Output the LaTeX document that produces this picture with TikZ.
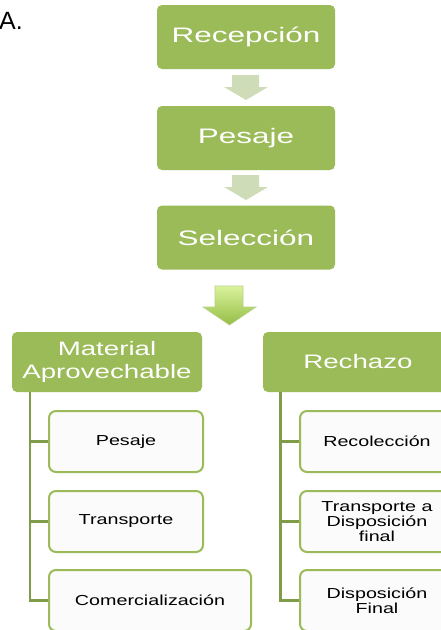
\documentclass[tikz,border=0pt]{standalone}
\usepackage{fontspec}
\setmainfont{Liberation Sans}
\newfontfamily\headfont[FakeStretch=1.5]{Liberation Sans}
\newfontfamily\subheadfont[FakeStretch=1.42]{Liberation Sans}
\newfontfamily\itemfont[FakeStretch=1.36]{Liberation Sans}
\usepackage{tikz}
\definecolor{boxgreen}{HTML}{9BBB59}
\definecolor{linegreen}{HTML}{7F9C48}
\definecolor{paleflow}{HTML}{CEDCB8}
\definecolor{itemfill}{HTML}{FBFBFB}
\definecolor{bigtop}{HTML}{DAF39C}
\definecolor{bigbottom}{HTML}{94BD45}

\begin{document}
\begin{tikzpicture}[
    x=1pt,y=-1pt,
    stage/.style={fill=boxgreen, rounded corners=5, text=white, inner sep=0,
      minimum width=178, minimum height=64, font=\headfont\fontsize{21}{23}\selectfont},
    group/.style={fill=boxgreen, rounded corners=5, text=white, inner sep=0, align=center,
      minimum width=190, minimum height=60, font=\subheadfont\fontsize{19.5}{22.5}\selectfont},
    item/.style={draw=boxgreen, line width=2, fill=itemfill, rounded corners=7, inner sep=0,
      align=center, minimum width=154, minimum height=61, font=\itemfont\fontsize{14.5}{13.3}\selectfont},
    branch/.style={draw=linegreen, line width=2.6},
    flow/.style={fill=paleflow}
    ]
    \useasboundingbox (0,0) rectangle (441,630);
    \clip (0,0) rectangle (441,630);
    \node[anchor=base west, inner sep=0, font=\fontsize{25}{27}\selectfont] (tag) at (-1,29) {A.};
    % main line
    \node[stage] (rec) at (246,37) {Recepción};
    \node[stage] (pes) at (246,138) {Pesaje};
    \node[stage] (sel) at (246,237.5) {Selección};
    \fill[flow] (232,75) -- (259,75) -- (259,87) -- (268,87) -- (246,100) -- (224,87) -- (232,87) -- cycle;
    \fill[flow] (232,175) -- (259,175) -- (259,187) -- (268,187) -- (246,200) -- (224,187) -- (232,187) -- cycle;
    \shade[top color=bigtop, bottom color=bigbottom, draw=boxgreen!70, line width=0.6]
      (215,286) -- (243,286) -- (243,307) -- (256,307) -- (229.5,325) -- (203,307) -- (215,307) -- cycle;
    % two branches
    \node[group] (hmat) at (107,362) {Material\\Aprovechable};
    \node[group] (hrec) at (358,362) {Rechazo};
    \node[item] (m1) at (126,441.5) {Pesaje};
    \node[item] (m2) at (126,521.5) {Transporte};
    \node[item, minimum width=202] (m3) at (150,600.5) {Comercialización};
    \node[item] (r1) at (377,441.5) {Recolección};
    \node[item] (r2) at (377,521.5) {Transporte a\\Disposición\\final};
    \node[item] (r3) at (377,600.5) {Disposición\\Final};
    \foreach \k in {m1,m2,m3}
      \draw[branch] ([xshift=18]hmat.south west) |- (\k.west);
    \foreach \k in {r1,r2,r3}
      \draw[branch] ([xshift=17.5]hrec.south west) |- (\k.west);
\end{tikzpicture}
\end{document}
